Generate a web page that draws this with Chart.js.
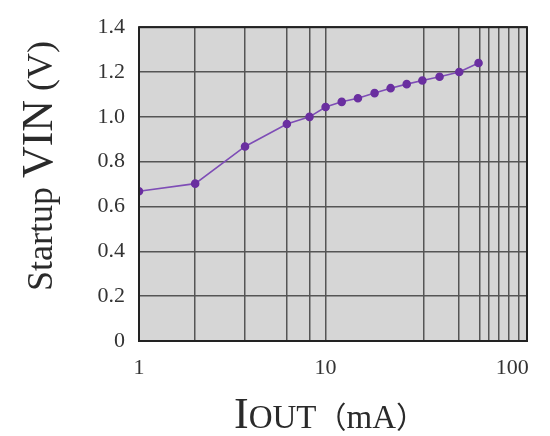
<!DOCTYPE html>
<html>
<head>
<meta charset="utf-8">
<script src="https://cdn.jsdelivr.net/npm/chart.js@4"></script>
<style>
  html, body { margin: 0; padding: 0; background: #fff; }
  #wrap { width: 550px; height: 436px; }
</style>
</head>
<body>
<div id="wrap"><canvas id="vin-chart" width="550" height="436"></canvas></div>
<script>
// values
const ioutMa = [1, 2, 3.7, 6.2, 8.2, 10, 12.2, 14.9, 18.3, 22.3, 27.2, 33, 40.8, 52, 66];
const startupVin = [0.668, 0.702, 0.868, 0.968, 1.0, 1.044, 1.067, 1.083, 1.106, 1.128, 1.146, 1.162, 1.179, 1.2, 1.24];
const xGridValues = [1, 2, 3.7, 6.2, 8.2, 10, 33.6, 52, 67, 75, 85, 96, 100, 108, 120];
const xTickLabels = [1, 10, 100];
const yTickValues = [0, 0.2, 0.4, 0.6, 0.8, 1.0, 1.2, 1.4];

const serif = "'Liberation Serif', 'DejaVu Serif', serif";
const cjk = "'Noto Sans CJK SC', " + serif;

// gray plot background + axis titles with mixed sizes
const decor = {
    id: 'decor',
    beforeDraw(chart) {
        const {ctx, chartArea: a} = chart;
        ctx.save();
        ctx.fillStyle = '#d6d6d6';
        ctx.fillRect(a.left, a.top, a.right - a.left, a.bottom - a.top);
        ctx.restore();
    },
    afterDraw(chart) {
        const {ctx, chartArea: a} = chart;
        ctx.save();
        ctx.fillStyle = '#2a2a2a';
        ctx.strokeStyle = '#222';
        ctx.lineWidth = 2;
        ctx.strokeRect(a.left, a.top, a.right - a.left, a.bottom - a.top);

        // x title: IOUT（mA）
        const parts = [
            {t: 'I', f: '44px ' + serif},
            {t: 'OUT', f: '33px ' + serif},
            {t: '（', f: '30px ' + cjk},
            {t: 'mA', f: '33px ' + serif},
            {t: '）', f: '30px ' + cjk}
        ];
        drawRun(ctx, parts, 330, 428);

        // y title: Startup VIN (V), rotated
        ctx.translate(52, 166);
        ctx.rotate(-Math.PI / 2);
        const yparts = [
            {t: 'Startup ', f: '36px ' + serif},
            {t: 'VIN', f: '44px ' + serif},
            {t: ' (V)', f: '36px ' + serif}
        ];
        drawRun(ctx, yparts, 0, 0);
        ctx.restore();
    }
};

function drawRun(ctx, parts, cx, baseline) {
    let total = 0;
    parts.forEach(p => { ctx.font = p.f; total += ctx.measureText(p.t).width; });
    let x = cx - total / 2;
    ctx.textBaseline = 'alphabetic';
    ctx.textAlign = 'left';
    parts.forEach(p => {
        ctx.font = p.f;
        ctx.fillText(p.t, x, baseline);
        x += ctx.measureText(p.t).width;
    });
}

new Chart(document.getElementById('vin-chart'), {
    type: 'line',
    data: {
        datasets: [{
            label: 'Startup VIN',
            data: ioutMa.map((x, i) => ({x: x, y: startupVin[i]})),
            borderColor: '#7e4db6',
            backgroundColor: '#6a2fa0',
            pointBackgroundColor: '#6a2fa0',
            pointBorderColor: '#6a2fa0',
            pointRadius: 3.5,
            borderWidth: 1.6,
            tension: 0
        }]
    },
    options: {
        responsive: false,
        animation: false,
        layout: {padding: {top: 17, right: 23, left: 0, bottom: 0}},
        plugins: {
            legend: {display: false},
            tooltip: {enabled: false}
        },
        scales: {
            x: {
                type: 'logarithmic',
                min: 1,
                max: 120,
                afterBuildTicks(scale) {
                    scale.ticks = xGridValues.map(v => ({value: v}));
                },
                afterFit(scale) { scale.height = 95; },
                border: {display: false},
                grid: {
                    color: ctx => (ctx.tick && ctx.tick.value === 100) ? 'rgba(0,0,0,0)' : '#555',
                    lineWidth: 1.5,
                    drawTicks: false
                },
                ticks: {
                    autoSkip: false,
                    maxRotation: 0,
                    padding: 14,
                    color: '#333',
                    font: {family: serif, size: 22},
                    callback: v => xTickLabels.includes(v) ? String(v) : ''
                }
            },
            y: {
                min: 0,
                max: 1.4,
                afterBuildTicks(scale) {
                    scale.ticks = yTickValues.map(v => ({value: v}));
                },
                afterFit(scale) { scale.width = 139; },
                border: {display: false},
                grid: {color: '#555', lineWidth: 1.5, drawTicks: false},
                ticks: {
                    padding: 14,
                    color: '#333',
                    font: {family: serif, size: 22},
                    callback: v => v === 0 ? '0' : v.toFixed(1)
                }
            }
        }
    },
    plugins: [decor]
});
</script>
</body>
</html>
